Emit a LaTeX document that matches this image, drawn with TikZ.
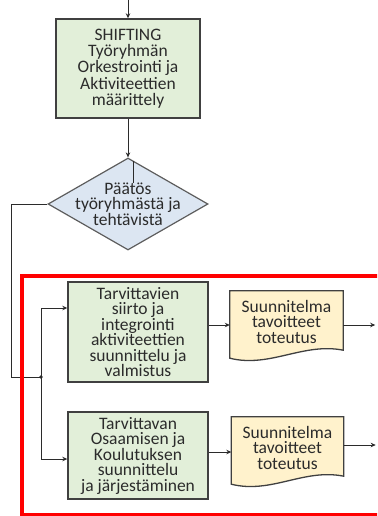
\documentclass[tikz,border=0pt]{standalone}
\usepackage{fontspec}
\setmainfont{Carlito}
\usetikzlibrary{arrows.meta,shapes.geometric}
\pgfdeclarelayer{background}
\pgfsetlayers{background,main}

\definecolor{procfill}{HTML}{E2EFD9}
\definecolor{decfill}{HTML}{DCE6F2}
\definecolor{docfill}{HTML}{FFF2CC}
\definecolor{edgegray}{HTML}{404040}
\definecolor{framered}{HTML}{FF0000}
\definecolor{inkgray}{HTML}{2B2B2B}

\begin{document}
\begin{tikzpicture}[x=1pt,y=1pt,
  every node/.style={font=\fontsize{17.5}{15.5}\selectfont, text=inkgray,
    align=center, inner sep=0pt},
  procbox/.style={rectangle, draw=edgegray, line width=1.4pt, fill=procfill},
  decision/.style={diamond, draw=edgegray!85, line width=1.2pt, fill=decfill},
  docbox/.style={rectangle},
  docshape/.style={draw=edgegray, line width=1.3pt, fill=docfill},
  flow/.style={draw=inkgray, line width=1pt, -{Stealth[length=5pt,width=4.5pt]}},
  plain/.style={draw=inkgray, line width=1pt},
  zone/.style={draw=framered, line width=3.4pt},
]
\useasboundingbox (0,0) rectangle (377,-516);
\clip (0,0) rectangle (377,-516);

% process boxes
\node[procbox, minimum width=144pt, minimum height=99pt,
  font=\fontsize{17.5}{16.3}\selectfont] (b1) at (128,-68.5)
  {SHIFTING\\Työryhmän\\Orkestrointi ja\\Aktiviteettien\\määrittely};

\node[decision, minimum width=160pt, minimum height=92pt,
  label={[name=dect]center:Päätös\\työryhmästä ja\\tehtävistä}] (dec) at (128,-204) {};

\node[procbox, minimum width=140pt, minimum height=100pt] (b2) at (138,-332)
  {Tarvittavien\\siirto ja\\integrointi\\aktiviteettien\\suunnittelu ja\\valmistus};

\node[procbox, minimum width=140pt, minimum height=87pt] (b3) at (138,-455.5)
  {Tarvittavan\\Osaamisen ja\\Koulutuksen\\suunnittelu\\ja järjestäminen};

% documents
\node[docbox, minimum width=113pt, minimum height=61pt] (d1) at (286.5,-321.5)
  {Suunnitelma\\tavoitteet\\toteutus};
\node[docbox, minimum width=112pt, minimum height=61pt] (d2) at (287.5,-447.5)
  {Suunnitelma\\tavoitteet\\toteutus};

\begin{pgfonlayer}{background}
  \foreach \d in {d1,d2}{
    \filldraw[docshape] (\d.north west) -- (\d.north east) -- ([yshift=2pt]\d.south east)
      .. controls +(-40,8) and +(40,-10) .. ([yshift=-6pt]\d.south west) -- cycle;
  }
\end{pgfonlayer}

% connectors
\coordinate (top) at (128,2);
\coordinate (j) at (41,-377);
\draw[flow] (top) -- (b1.north);
\draw[flow] (b1.south) -- (dec.north);
\draw[plain] ([xshift=5pt,yshift=-4pt]dec.north) -- ++(0,-22);
\draw[plain] (dec.west) -- ++(-36,0) |- (j);
\fill[inkgray] (j) circle (1.8pt);
\draw[flow] (j) |- ([yshift=24pt]b2.west);
\draw[flow] (j) |- ([yshift=-3.5pt]b3.west);
\draw[flow] ([yshift=7pt]b2.east) -- ([yshift=-3.5pt]d1.west);
\draw[flow] ([yshift=-3.5pt]d1.east) -- ++(32,0);
\draw[flow] ([yshift=3.5pt]b3.east) -- ([yshift=-4.5pt]d2.west);
\draw[flow] ([yshift=2.5pt]d2.east) -- ++(32,0);

% red frame
\draw[zone] (22,-276) rectangle (420,-514.5);
\end{tikzpicture}
\end{document}
